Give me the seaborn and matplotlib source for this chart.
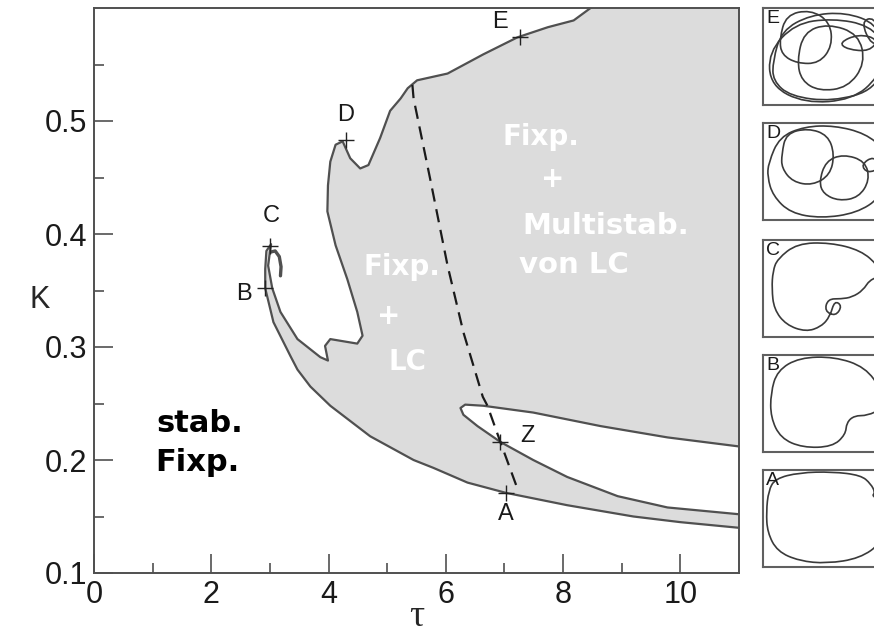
import numpy as np
import pandas as pd
import matplotlib
matplotlib.use("Agg")
import matplotlib.pyplot as plt
from matplotlib.path import Path
from matplotlib.patches import PathPatch
import seaborn as sns

# boundary of the grey region (tau, K), from the top edge round to the right edge
boundary_tau = [8.60, 8.18, 7.74, 7.22, 6.64, 6.03, 5.51, 5.35, 5.23, 5.05, 4.88, 4.68,
                4.54, 4.37, 4.24, 4.12, 4.03, 3.99, 3.98, 4.12, 4.32, 4.49, 4.58, 4.49,
                4.03, 3.94, 3.99, 3.86, 3.47, 3.18, 3.04, 2.97, 3.00, 3.02, 2.94, 2.92,
                2.92, 3.06, 3.35, 3.47, 3.69, 4.03, 4.71, 5.45, 5.79, 6.37, 7.02, 8.07,
                9.20, 10.0, 11.0]
boundary_K = [0.605, 0.589, 0.583, 0.574, 0.559, 0.542, 0.536, 0.529, 0.520, 0.509, 0.485, 0.461,
              0.458, 0.467, 0.482, 0.479, 0.464, 0.443, 0.420, 0.390, 0.360, 0.331, 0.310, 0.303,
              0.307, 0.301, 0.288, 0.291, 0.307, 0.331, 0.352, 0.372, 0.384, 0.391, 0.385, 0.369,
              0.352, 0.322, 0.292, 0.280, 0.265, 0.248, 0.221, 0.200, 0.193, 0.180, 0.171, 0.160,
              0.150, 0.145, 0.140]

# white tongue inside the grey region
hole_tau = [11.0, 9.78, 8.64, 7.49, 6.64, 6.33, 6.25, 6.30, 6.54, 6.93, 7.49, 8.07, 8.93, 9.78, 11.0]
hole_K = [0.212, 0.220, 0.230, 0.242, 0.248, 0.249, 0.246, 0.240, 0.230, 0.216, 0.200, 0.185,
          0.168, 0.158, 0.152]

# spiral end near C
hook_tau = [3.01, 3.09, 3.16, 3.19, 3.18]
hook_K = [0.384, 0.385, 0.380, 0.371, 0.363]

# dashed separatrix
sep_tau = [5.43, 5.45, 5.74, 6.03, 6.30, 6.63, 6.71, 6.93, 7.24]
sep_K = [0.532, 0.520, 0.447, 0.372, 0.313, 0.256, 0.248, 0.216, 0.172]

# marked points
pt_names = ["A", "B", "C", "D", "E", "Z"]
pt_tau = [7.02, 2.92, 3.01, 4.29, 7.26, 6.93]
pt_K = [0.171, 0.352, 0.389, 0.483, 0.574, 0.216]
lbl_tau = [7.02, 2.55, 3.03, 4.29, 6.93, 7.39]
lbl_K = [0.152, 0.347, 0.416, 0.505, 0.588, 0.221]

# trajectories in the small panels (x right, y down, panel = unit box)
traj = {
    "E": [
        [(0.06, 0.55), (0.14, 0.20), (0.40, 0.02), (0.72, -0.01), (1.00, 0.12), (1.10, 0.45),
         (1.00, 0.88), (0.60, 1.02), (0.22, 0.96), (0.06, 0.78)],
        [(0.12, 0.30), (0.18, 0.02), (0.40, -0.04), (0.58, 0.10), (0.60, 0.38), (0.48, 0.58),
         (0.28, 0.58), (0.14, 0.48)],
        [(0.28, 0.55), (0.34, 0.22), (0.56, 0.12), (0.84, 0.24), (0.90, 0.58), (0.74, 0.86),
         (0.48, 0.90), (0.32, 0.78)],
        [(0.02, 0.45), (0.04, 0.84), (0.35, 1.04), (0.78, 1.00), (1.02, 0.74), (1.10, 0.40),
         (0.94, 0.14), (0.60, 0.06), (0.26, 0.12)],
        [(0.66, 0.34), (0.84, 0.24), (1.02, 0.30), (0.94, 0.44), (0.74, 0.42)],
        [(0.86, 0.10), (0.98, 0.04), (1.06, 0.30), (0.96, 0.38)],
    ],
    "D": [
        [(0.02, 0.40), (0.12, 0.10), (0.35, -0.02), (0.62, -0.03), (0.90, 0.06), (1.08, 0.25),
         (1.12, 0.52), (1.04, 0.80), (0.82, 0.98), (0.50, 1.04), (0.22, 0.98), (0.06, 0.78),
         (0.01, 0.56)],
        [(0.14, 0.30), (0.18, 0.06), (0.38, 0.00), (0.56, 0.08), (0.62, 0.30), (0.58, 0.54),
         (0.42, 0.66), (0.24, 0.62), (0.14, 0.46)],
        [(0.48, 0.62), (0.54, 0.38), (0.70, 0.30), (0.90, 0.38), (0.94, 0.60), (0.84, 0.80),
         (0.66, 0.84), (0.52, 0.76)],
        [(0.86, 0.42), (0.98, 0.32), (1.04, 0.46), (0.92, 0.52)],
    ],
    "C": [
        [(0.10, 0.16), (0.28, -0.02), (0.58, -0.03), (0.86, 0.06), (1.02, 0.24), (1.04, 0.36),
         (0.94, 0.40), (0.88, 0.52), (0.78, 0.60), (0.68, 0.62), (0.56, 0.62), (0.53, 0.76),
         (0.63, 0.82), (0.69, 0.70), (0.62, 0.64), (0.58, 0.82), (0.50, 0.94), (0.36, 1.00),
         (0.18, 0.92), (0.07, 0.74), (0.05, 0.50), (0.06, 0.30)],
    ],
    "B": [
        [(0.10, 0.12), (0.30, -0.03), (0.62, -0.04), (0.90, 0.08), (1.05, 0.35), (1.05, 0.56),
         (0.92, 0.64), (0.80, 0.64), (0.73, 0.72), (0.72, 0.86), (0.60, 1.00), (0.33, 1.01),
         (0.13, 0.90), (0.04, 0.66), (0.04, 0.38)],
    ],
    "A": [
        [(0.08, 0.04), (0.30, -0.03), (0.60, -0.04), (0.86, 0.00), (0.95, 0.10), (0.99, 0.20),
         (0.96, 0.24), (1.05, 0.30), (1.10, 0.50), (1.05, 0.78), (0.85, 0.96), (0.55, 1.02),
         (0.30, 0.99), (0.10, 0.88), (0.01, 0.66), (0.00, 0.42), (0.02, 0.18)],
    ],
}
panel_names = ["E", "D", "C", "B", "A"]
panel_tops = [8, 123, 240, 355, 470]


def loop_path(pts):
    p = np.asarray(pts, dtype=float)
    nxt = np.roll(p, -1, axis=0)
    mids = (p + nxt) / 2
    verts = [mids[-1]]
    codes = [Path.MOVETO]
    for i in range(len(p)):
        verts += [p[i], mids[i]]
        codes += [Path.CURVE3, Path.CURVE3]
    return Path(verts, codes)


sns.set_theme(style="ticks")
plt.rcParams["font.family"] = ["Liberation Sans", "DejaVu Sans"]
edge = "#505050"

fig = plt.figure(figsize=(8.74, 6.34), dpi=100)
ax = fig.add_axes([94 / 874, 61 / 634, 645 / 874, 565 / 634])

# grey region
fill_tau = boundary_tau + [11.0, 11.0]
fill_K = boundary_K + [0.61, 0.61]
ax.fill(fill_tau, fill_K, color="#dcdcdc", lw=0, zorder=1)
ax.fill(hole_tau, hole_K, color="white", lw=0, zorder=2)

line_df = pd.DataFrame({"tau": boundary_tau, "K": boundary_K})
sns.lineplot(data=line_df, x="tau", y="K", sort=False, estimator=None,
             color=edge, lw=1.6, ax=ax, zorder=3)
sns.lineplot(x=hole_tau, y=hole_K, sort=False, estimator=None,
             color=edge, lw=1.6, ax=ax, zorder=3)
sns.lineplot(x=hook_tau, y=hook_K, sort=False, estimator=None,
             color=edge, lw=2.4, ax=ax, zorder=3)
sns.lineplot(x=sep_tau, y=sep_K, sort=False, estimator=None,
             color="#1a1a1a", lw=1.6, dashes=False, ax=ax, zorder=4)
ax.lines[-1].set_dashes((6, 3.5))

ax.plot(pt_tau, pt_K, ls="none", marker="+", ms=11, mew=1.0, color="#222222", zorder=5)
for name, x, y in zip(pt_names, lbl_tau, lbl_K):
    ax.text(x, y, name, fontsize=17, ha="center", va="center", color="#1a1a1a", zorder=6)

# handwritten notes
hand = dict(family=["DejaVu Sans"], fontweight="bold", ha="center", va="center", zorder=6)
ax.text(1.80, 0.232, "stab.", fontsize=22, color="black", **hand)
ax.text(1.76, 0.198, "Fixp.", fontsize=22, color="black", **hand)
ax.text(5.25, 0.371, "Fixp.", fontsize=20, color="white", **hand)
ax.text(5.02, 0.327, "+", fontsize=20, color="white", **hand)
ax.text(5.35, 0.287, "LC", fontsize=20, color="white", **hand)
ax.text(7.62, 0.486, "Fixp.", fontsize=20, color="white", **hand)
ax.text(7.83, 0.449, "+", fontsize=20, color="white", **hand)
ax.text(8.72, 0.407, "Multistab.", fontsize=21, color="white", **hand)
ax.text(8.18, 0.373, "von LC", fontsize=21, color="white", **hand)

ax.set_xlim(0, 11)
ax.set_ylim(0.1, 0.6)
ax.set_xticks([0, 2, 4, 6, 8, 10])
ax.set_xticks([1, 3, 5, 7, 9], minor=True)
ax.set_yticks([0.1, 0.2, 0.3, 0.4, 0.5])
ax.set_yticklabels(["0.1", "0.2", "0.3", "0.4", "0.5"])
ax.set_yticks([0.15, 0.25, 0.35, 0.45, 0.55], minor=True)
ax.tick_params(which="both", direction="in", colors=edge, labelcolor="#1a1a1a",
               labelsize=22, width=1.2)
ax.tick_params(axis="x", pad=5)
ax.tick_params(axis="y", pad=5)
ax.tick_params(which="major", length=14)
ax.tick_params(which="minor", length=7)
for s in ax.spines.values():
    s.set_color(edge)
    s.set_linewidth(1.4)
ax.set_xlabel("τ", fontsize=27, family=["Liberation Serif"], va="center")
ax.xaxis.set_label_coords(0.5, -0.078)
ax.set_ylabel("K", fontsize=22, rotation=0, ha="center", va="center")
ax.yaxis.set_label_coords(-0.084, 0.483)

# small trajectory panels
for name, top in zip(panel_names, panel_tops):
    iax = fig.add_axes([763 / 874, (634 - top - 97) / 634, 132 / 874, 97 / 634])
    iax.set_xlim(-0.03, 1.17)
    iax.set_ylim(1.06, -0.06)
    iax.set_xticks([])
    iax.set_yticks([])
    for s in iax.spines.values():
        s.set_color("#606060")
        s.set_linewidth(1.5)
    for pts in traj[name]:
        iax.add_patch(PathPatch(loop_path(pts), fill=False, ec="#3a3a3a", lw=1.2))
    iax.text(0.025, 0.975, name, fontsize=14, ha="left", va="top", color="#1a1a1a",
             transform=iax.transAxes)

fig.savefig("out.png", dpi=100)
